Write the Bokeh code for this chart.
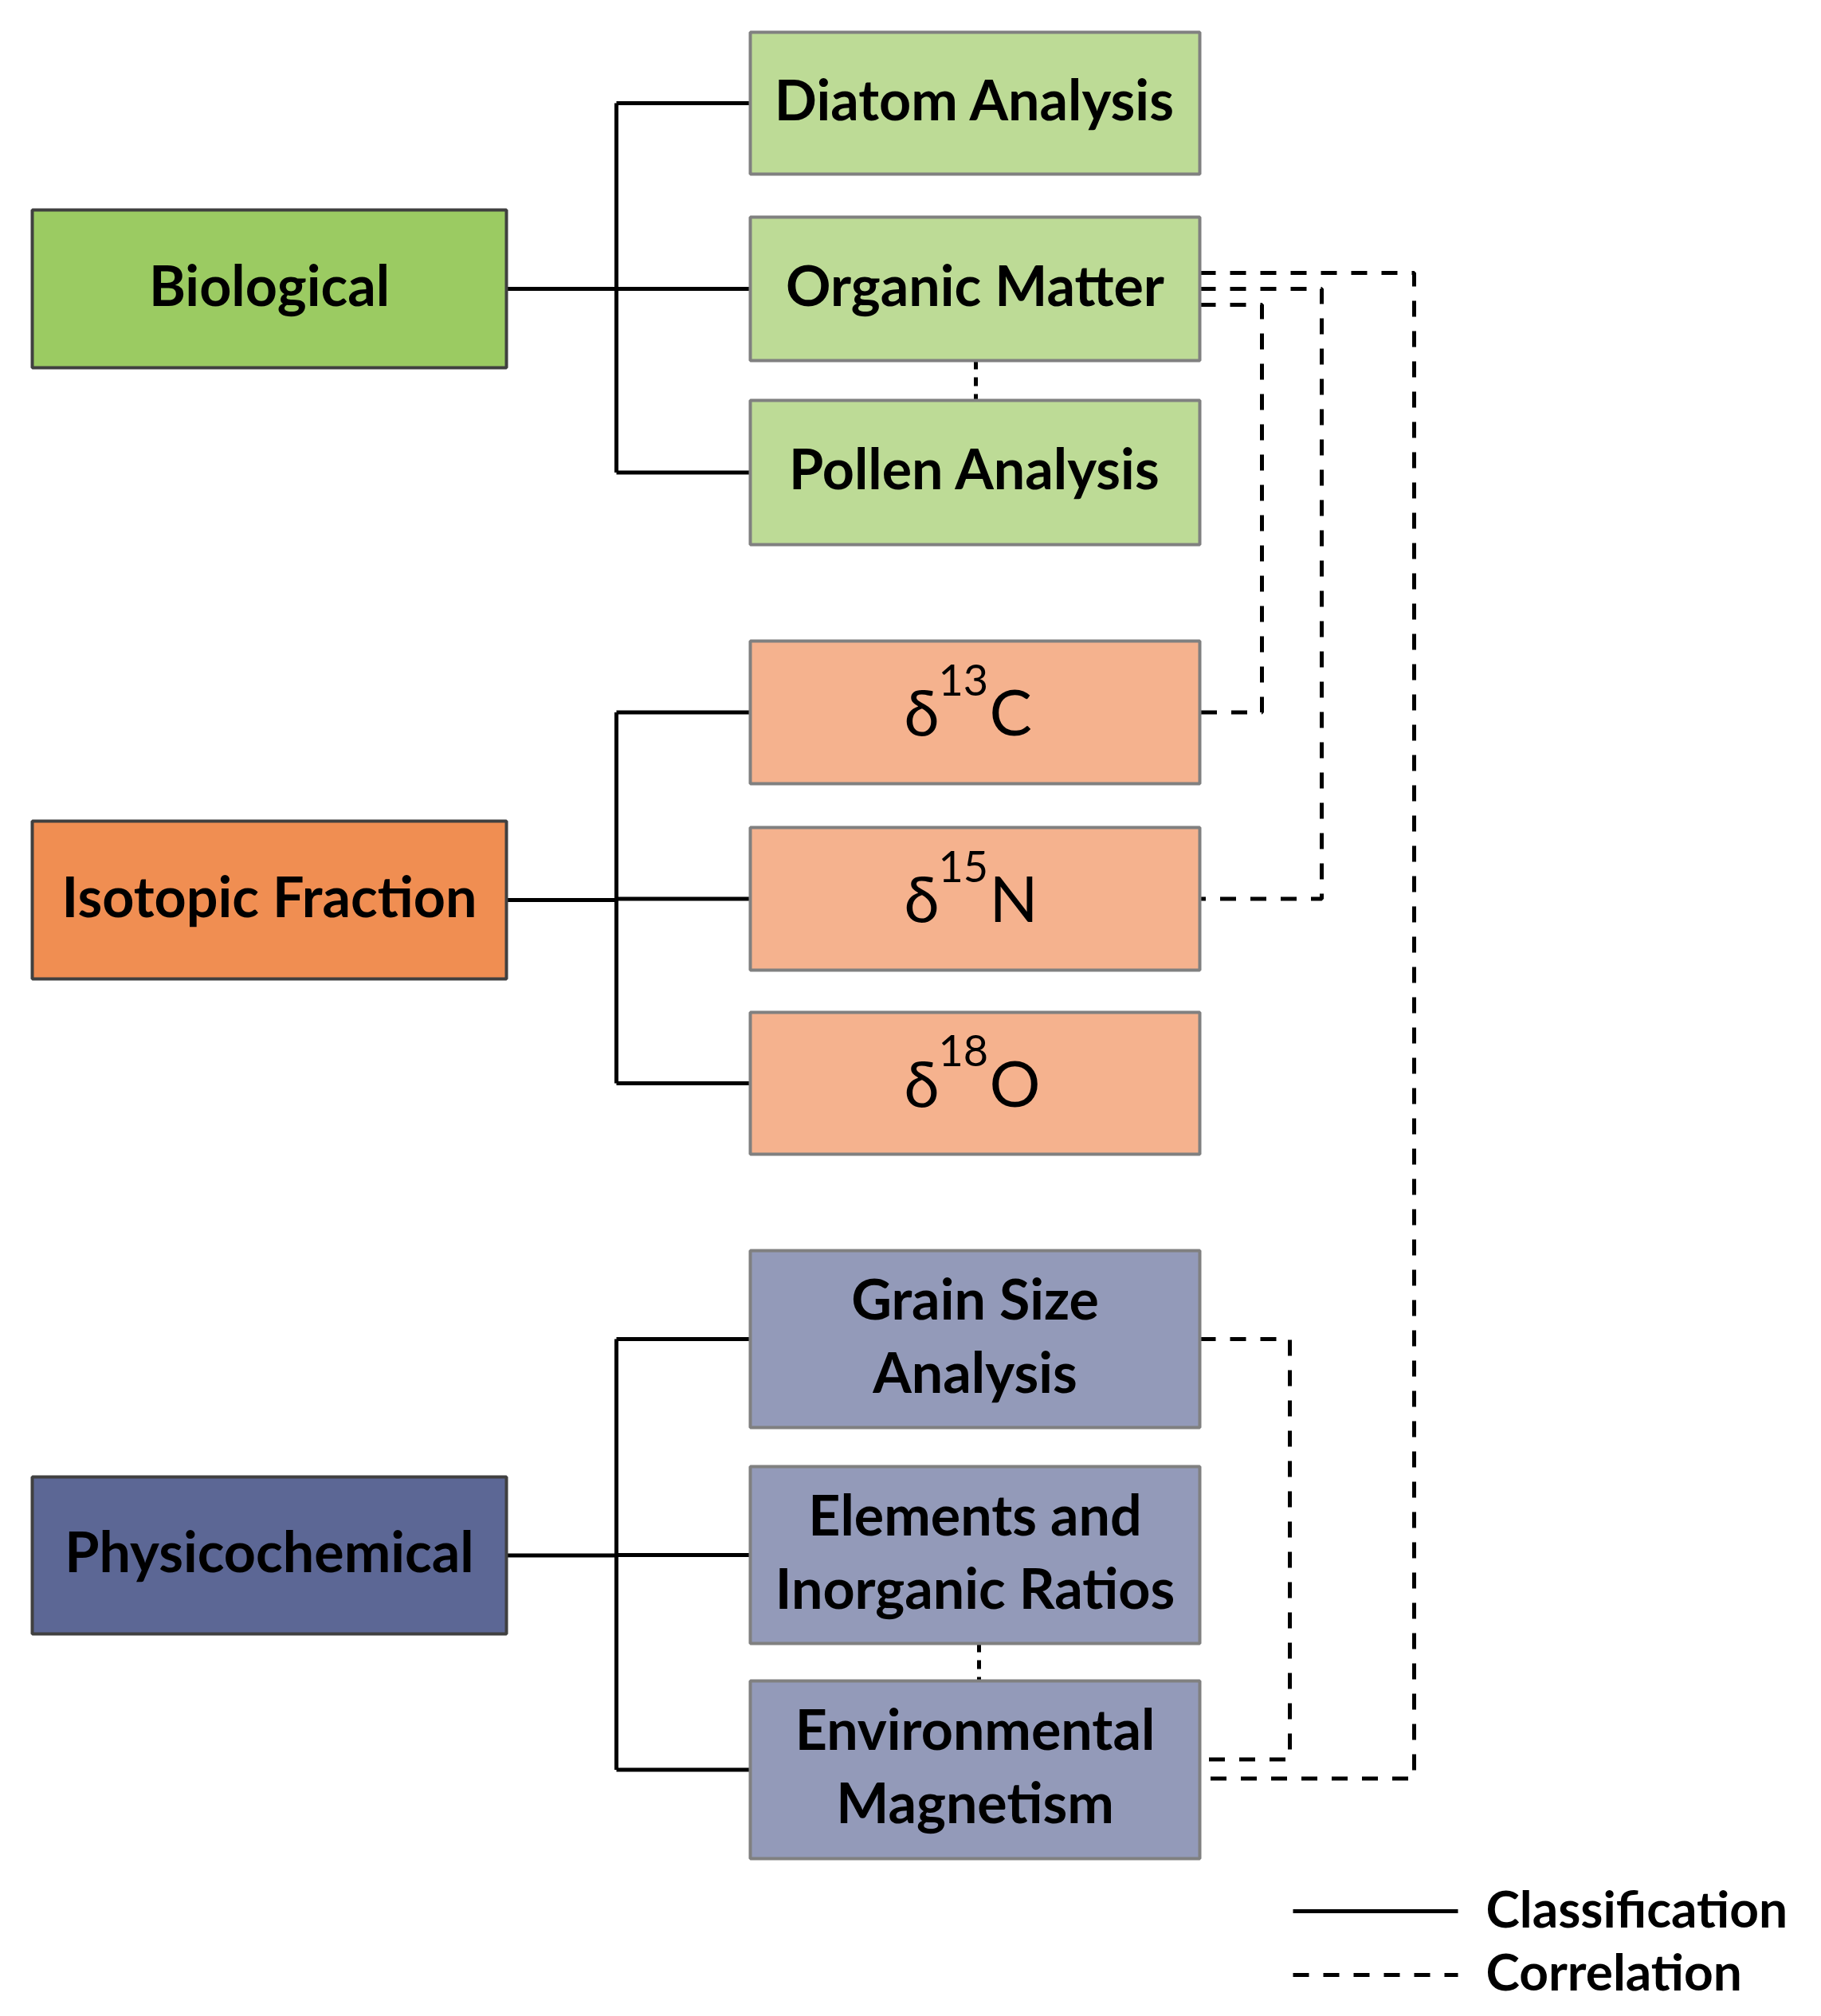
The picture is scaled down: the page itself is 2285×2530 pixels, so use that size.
from bokeh.plotting import figure
from bokeh.models import Range1d
from bokeh.core.properties import value
from bokeh.embed import file_html
from bokeh.resources import INLINE

# ---------------- data ----------------
group_names = ["Biological", "Isotopic Fraction", "Physicochemical"]
biological_methods = ["Diatom Analysis", "Organic Matter", "Pollen Analysis"]
isotope_masses = ["13", "15", "18"]
isotope_elements = ["C", "N", "O"]
physicochemical_methods = [["Grain Size", "Analysis"],
                           ["Elements and", "Inorganic Ratios"],
                           ["Environmental", "Magnetism"]]
# correlations drawn along the right side: (from, to)
side_correlations = [("Organic Matter", "Environmental Magnetism"),
                     ("Organic Matter", "δ15N"),
                     ("Organic Matter", "δ13C"),
                     ("Grain Size Analysis", "Environmental Magnetism")]
# correlations between vertically adjacent boxes: (upper, lower)
adjacent_correlations = [("Organic Matter", "Pollen Analysis"),
                         ("Elements and Inorganic Ratios", "Environmental Magnetism")]
legend_labels = ["Classification", "Correlation"]

# ---------------- layout / style ----------------
W, H = 2269, 2514
GROUP_X = (40, 635)
GROUP_Y = [(263, 461), (1030, 1228), (1853, 2050)]
CHILD_X = (941, 1505)
CHILD_Y = [[(40, 218), (272, 452), (502, 683)],
           [(804, 983), (1038, 1217), (1270, 1448)],
           [(1569, 1791), (1840, 2062), (2109, 2332)]]
BRACKET_X = 773
group_fill = ["#9BCB62", "#F08E52", "#5C6795"]
child_fill = ["#BDDB96", "#F5B28E", "#939AB9"]
# side routes: trunk x, y offset at start box, y offset at end box
side_routes = [(1774, -20, 11), (1658, 0, 0), (1583, 20, 0), (1618, 0, -13)]
FONT = value("Lato")
TY = -28  # baseline correction

p = figure(width=W, height=H, output_backend="svg", toolbar_location=None,
           x_range=Range1d(0, W), y_range=Range1d(H, 0),
           min_border=0, outline_line_color=None, background_fill_color="white")
p.axis.visible = False
p.grid.visible = False

child_ids = [biological_methods,
             ["δ" + m + e for m, e in zip(isotope_masses, isotope_elements)],
             [" ".join(l) for l in physicochemical_methods]]
centers = {}
for gi in range(3):
    for ci in range(3):
        centers[child_ids[gi][ci]] = CHILD_Y[gi][ci]

# classification lines
xs, ys = [], []
for gi in range(3):
    gt, gb = GROUP_Y[gi]
    gc = (gt + gb) / 2
    cys = [(t + b) / 2 for t, b in CHILD_Y[gi]]
    xs.append([GROUP_X[1], BRACKET_X]); ys.append([gc, gc])
    xs.append([BRACKET_X, BRACKET_X]); ys.append([cys[0], cys[-1]])
    for cy in cys:
        xs.append([BRACKET_X, CHILD_X[0]]); ys.append([cy, cy])
p.multi_line(xs, ys, line_color="black", line_width=5)

# side correlation lines
for (a, bname), (tx, da, db) in zip(side_correlations, side_routes):
    ya = sum(centers[a]) / 2 + da
    yb = sum(centers[bname]) / 2 + db
    p.line([CHILD_X[1], tx, tx, CHILD_X[1]], [ya, ya, yb, yb],
           line_color="black", line_width=5, line_dash="20 18")

# adjacent correlation lines
adj_x = [1224, 1228]
for (a, bname), ax in zip(adjacent_correlations, adj_x):
    p.line([ax, ax], [centers[a][1], centers[bname][0]],
           line_color="black", line_width=5, line_dash="11 10")

# boxes
for gi in range(3):
    gt, gb = GROUP_Y[gi]
    p.quad(left=[GROUP_X[0]], right=[GROUP_X[1]], top=[gt], bottom=[gb],
           fill_color=group_fill[gi], line_color="#404040", line_width=4)
    for ci in range(3):
        t, b = CHILD_Y[gi][ci]
        p.quad(left=[CHILD_X[0]], right=[CHILD_X[1]], top=[t], bottom=[b],
               fill_color=child_fill[gi], line_color="#808080", line_width=4)

# group labels
gx = (GROUP_X[0] + GROUP_X[1]) / 2
p.text(x=[gx] * 3, y=[(t + b) / 2 + 22 + TY for t, b in GROUP_Y], text=group_names,
       text_font=FONT, text_font_style="bold", text_font_size="70px",
       text_align="center", text_baseline="alphabetic", text_color="black")

cx = (CHILD_X[0] + CHILD_X[1]) / 2
p.text(x=[cx] * 3, y=[(t + b) / 2 + 22 + TY for t, b in CHILD_Y[0]], text=biological_methods,
       text_font=FONT, text_font_style="bold", text_font_size="70px",
       text_align="center", text_baseline="alphabetic", text_color="black")

lx, ly, lt = [], [], []
for (t, b), lines in zip(CHILD_Y[2], physicochemical_methods):
    c = (t + b) / 2
    for k, line in enumerate(lines):
        lx.append(cx); ly.append(c - 24 + 92 * k + TY); lt.append(line)
p.text(x=lx, y=ly, text=lt, text_font=FONT, text_font_style="bold", text_font_size="70px",
       text_align="center", text_baseline="alphabetic", text_color="black")

icy = [(t + b) / 2 for t, b in CHILD_Y[1]]
p.text(x=[cx - 45] * 3, y=[c + 26 + TY for c in icy], text=["δ"] * 3,
       text_font=FONT, text_font_size="80px", text_align="right",
       text_baseline="alphabetic", text_color="black")
p.text(x=[cx - 46] * 3, y=[c - 13 + TY for c in icy], text=isotope_masses,
       text_font=FONT, text_font_size="54px", text_align="left",
       text_baseline="alphabetic", text_color="black")
p.text(x=[cx + 18] * 3, y=[c + 26 + TY for c in icy], text=isotope_elements,
       text_font=FONT, text_font_size="80px", text_align="left",
       text_baseline="alphabetic", text_color="black")

# legend
p.line([1622, 1829], [2398, 2398], line_color="black", line_width=5)
p.line([1622, 1829], [2478, 2478], line_color="black", line_width=5, line_dash="20 18")
p.text(x=[1864, 1864], y=[2422 + TY, 2501 + TY], text=legend_labels,
       text_font=FONT, text_font_style="bold", text_font_size="64px",
       text_align="left", text_baseline="alphabetic", text_color="black")

open("out.html", "w").write(file_html(p, INLINE))
